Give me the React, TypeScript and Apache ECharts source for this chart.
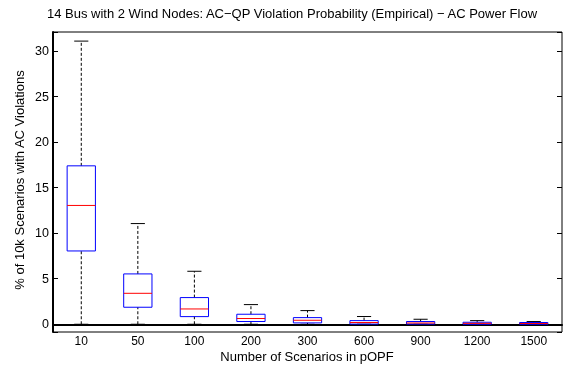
import React, { useEffect, useRef } from "react";
import * as echarts from "echarts";

const categories = ["10", "50", "100", "200", "300", "600", "900", "1200", "1500"];
const lowerWhisker = [0, 0, 0, 0, 0, 0, 0, 0, 0];
const q1 = [8.05, 1.87, 0.84, 0.3, 0.15, 0.02, 0.02, 0.0, 0.0];
const medians = [13.05, 3.4, 1.68, 0.63, 0.44, 0.19, 0.14, 0.1, 0.08];
const q3 = [17.4, 5.53, 2.93, 1.1, 0.73, 0.4, 0.3, 0.22, 0.19];
const upperWhisker = [31.1, 11.06, 5.82, 2.16, 1.5, 0.85, 0.55, 0.4, 0.3];

const titleText = "14 Bus with 2 Wind Nodes: AC\u2212QP Violation Probability (Empirical) \u2212 AC Power Flow";
const xName = "Number of Scenarios in pOPF";
const yName = "% of 10k Scenarios with AC Violations";

const FONT = "'Liberation Sans', Arial, Helvetica, sans-serif";

export default function App() {
  const ref = useRef<HTMLDivElement>(null);
  useEffect(() => {
    if (!ref.current) return;
    const chart = echarts.init(ref.current, null, { renderer: "svg" });
    const data = categories.map((_, i) => [i, lowerWhisker[i], q1[i], medians[i], q3[i], upperWhisker[i]]);
    const yLabel = (v: number) => {
      const r = Math.round(v);
      return Math.abs(v - r) < 1e-6 && r % 5 === 0 ? String(r) : "";
    };
    chart.setOption({
      animation: false,
      textStyle: { fontFamily: FONT },
      grid: { left: 53, right: 8, top: 32, bottom: 33, show: true, borderColor: "#000", borderWidth: 1, backgroundColor: "transparent" },
      graphic: [
        { type: "text", x: 292, y: 13, style: { text: titleText, font: `13px ${FONT}`, fill: "#000", align: "center", verticalAlign: "middle" } },
        { type: "text", x: 307, y: 356, style: { text: xName, font: `13px ${FONT}`, fill: "#000", align: "center", verticalAlign: "middle" } },
        { type: "text", x: 19, y: 180, rotation: Math.PI / 2, style: { text: yName, font: `13px ${FONT}`, fill: "#000", align: "center", verticalAlign: "middle" } },
      ],
      xAxis: {
        type: "category",
        data: categories,
        boundaryGap: true,
        axisLine: { show: true, lineStyle: { color: "#000", width: 2 } },
        axisTick: { show: false },
        axisLabel: { color: "#000", fontSize: 12, fontFamily: FONT, margin: 3, lineHeight: 12 },
        splitLine: { show: false },
      },
      yAxis: [
        {
          type: "value",
          min: -0.85,
          max: 32.1,
          splitNumber: 6,
          axisLine: { show: true, lineStyle: { color: "#000", width: 2 } },
          axisTick: { show: true, inside: true, length: 5, lineStyle: { color: "#000" } },
          axisLabel: { color: "#000", fontSize: 12.5, fontFamily: FONT, margin: 4, formatter: yLabel },
          splitLine: { show: false },
        },
        {
          type: "value",
          position: "right",
          min: -0.85,
          max: 32.1,
          splitNumber: 6,
          axisLine: { show: false },
          axisTick: { show: true, inside: true, length: 5, lineStyle: { color: "#000" } },
          axisLabel: { show: false },
          splitLine: { show: false },
        },
      ],
      series: [
        {
          type: "custom",
          xAxisIndex: 0,
          yAxisIndex: 0,
          data,
          renderItem: (params: any, api: any) => {
            const idx = api.value(0);
            const lo = api.coord([idx, api.value(1)]);
            const p1 = api.coord([idx, api.value(2)]);
            const md = api.coord([idx, api.value(3)]);
            const p3 = api.coord([idx, api.value(4)]);
            const hi = api.coord([idx, api.value(5)]);
            const band = api.size([1, 0])[0];
            const bh = band * 0.25;
            const ch = band * 0.125;
            const x = lo[0];
            const dash = { stroke: "#000", lineWidth: 1, lineDash: [3, 2] };
            const solid = { stroke: "#000", lineWidth: 1 };
            return {
              type: "group",
              children: [
                { type: "line", shape: { x1: x, y1: p3[1], x2: x, y2: hi[1] }, style: dash },
                { type: "line", shape: { x1: x, y1: lo[1], x2: x, y2: p1[1] }, style: dash },
                { type: "line", shape: { x1: x - ch, y1: hi[1], x2: x + ch, y2: hi[1] }, style: solid },
                { type: "line", shape: { x1: x - ch, y1: lo[1], x2: x + ch, y2: lo[1] }, style: solid },
                { type: "rect", shape: { x: x - bh, y: p3[1], width: bh * 2, height: p1[1] - p3[1] }, style: { fill: "none", stroke: "#0000ff", lineWidth: 1 } },
                { type: "line", shape: { x1: x - bh, y1: md[1], x2: x + bh, y2: md[1] }, style: { stroke: "#ff0000", lineWidth: 1 } },
              ],
            };
          },
        },
      ],
    });
    return () => chart.dispose();
  }, []);
  return <div ref={ref} style={{ position: "fixed", left: 0, top: 0, width: 570, height: 365 }} />;
}
